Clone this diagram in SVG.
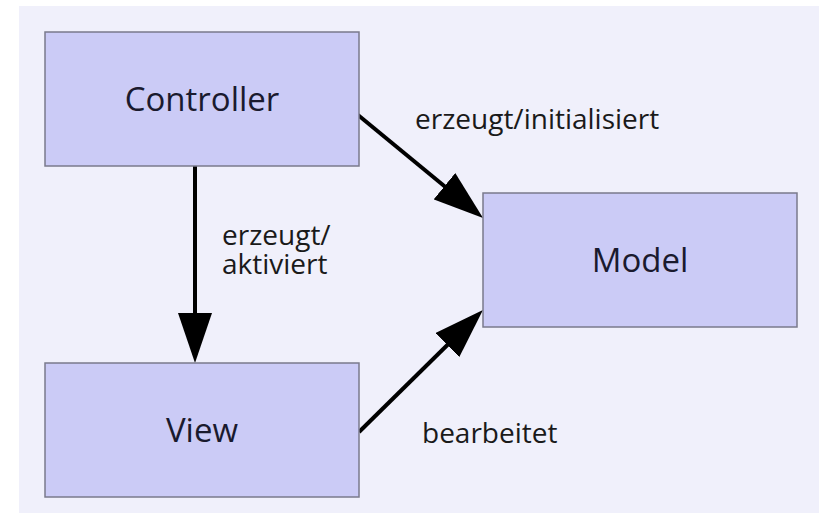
<svg xmlns="http://www.w3.org/2000/svg" width="825" height="517" viewBox="0 0 825 517">
<style>
.box{fill:#cbcbf6;stroke:#7a7a8c;stroke-width:1.5}
.nl{font-family:"Open Sans","DejaVu Sans",sans-serif;font-size:33px;fill:#1a1a2e;text-anchor:middle}
.el{font-family:"Open Sans","DejaVu Sans",sans-serif;font-size:28px;fill:#1a1a1a}
.ln{stroke:#000;stroke-width:4;fill:none}
</style>
<defs>
<marker id="ah" markerUnits="userSpaceOnUse" markerWidth="50" markerHeight="34" refX="30" refY="17" orient="auto">
<path d="M0,0 L50,17 L0,34 z" fill="#000"/>
</marker>
</defs>
<rect x="0" y="0" width="825" height="517" fill="#ffffff"/>
<rect x="19" y="6" width="800" height="507" fill="#f0f0fb"/>
<g id="connectors">
<line class="ln" x1="195" y1="166" x2="195" y2="343" marker-end="url(#ah)"/>
<line class="ln" x1="358" y1="115" x2="467.6" y2="205.3" marker-end="url(#ah)"/>
<line class="ln" x1="359" y1="432" x2="468.7" y2="324" marker-end="url(#ah)"/>
<text class="el" x="415" y="129">erzeugt/initialisiert</text>
<text class="el" x="222" y="245">erzeugt/<tspan x="222" y="274">aktiviert</tspan></text>
<text class="el" x="422" y="443">bearbeitet</text>
</g>
<g id="controller">
<rect class="box" x="45" y="32" width="314" height="134"/>
<text class="nl" x="202" y="111">Controller</text>
</g>
<g id="model">
<rect class="box" x="483" y="193" width="314" height="134"/>
<text class="nl" x="640" y="272">Model</text>
</g>
<g id="view">
<rect class="box" x="45" y="363" width="314" height="134"/>
<text class="nl" x="202" y="442">View</text>
</g>
</svg>
